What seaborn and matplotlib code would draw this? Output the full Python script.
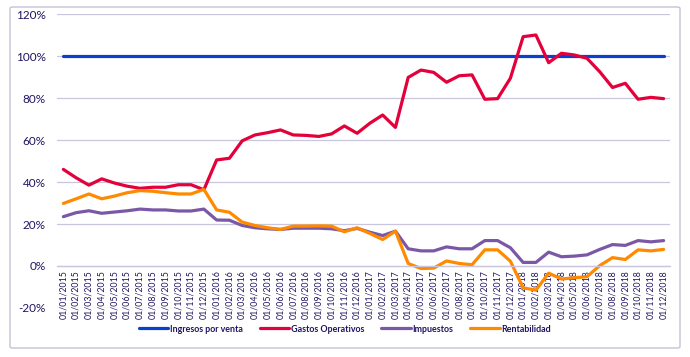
import pandas as pd
import seaborn as sns
import matplotlib.pyplot as plt
import numpy as np
from matplotlib.patches import FancyBboxPatch
from matplotlib.ticker import FuncFormatter

fechas = pd.date_range('2015-01-01', '2018-12-01', freq='MS').strftime('%d/%m/%Y').tolist()

ingresos = [100, 100, 100, 100, 100, 100, 100, 100, 100, 100, 100, 100,
            100, 100, 100, 100, 100, 100, 100, 100, 100, 100, 100, 100,
            100, 100, 100, 100, 100, 100, 100, 100, 100, 100, 100, 100,
            100, 100, 100, 100, 100, 100, 100, 100, 100, 100, 100, 100]
gastos = [46, 42, 38.5, 41.5, 39.5, 38, 37, 37.5, 37.5, 38.7, 38.7, 36.3,
          50.5, 51.3, 59.6, 62.4, 63.5, 64.8, 62.4, 62.2, 61.7, 62.9, 66.7, 63.2,
          68, 71.9, 66, 89.8, 93.3, 92.2, 87.5, 90.6, 91, 79.4, 79.7, 89.4,
          109.2, 110, 96.8, 101.3, 100.5, 98.9, 92.5, 85, 87, 79.4, 80.3, 79.7]
impuestos = [23.5, 25.4, 26.3, 25.1, 25.7, 26.3, 27.1, 26.7, 26.7, 26.2, 26.2, 27.1,
             21.9, 21.8, 19.3, 18.2, 17.7, 17.4, 18, 18, 18, 17.7, 16.8, 17.9,
             16.1, 14.5, 16.6, 8.2, 7.2, 7.2, 9.1, 8.2, 8.2, 12.1, 12.1, 8.7,
             1.7, 1.7, 6.6, 4.4, 4.7, 5.3, 7.9, 10.2, 9.8, 12.1, 11.5, 12.1]
rentabilidad = [29.8, 32, 34.3, 32, 33.3, 34.9, 35.9, 35.6, 34.9, 34.3, 34.3, 36.5,
                26.7, 25.6, 20.9, 19.3, 18.2, 17.4, 19, 19, 19.1, 19, 16.3, 18.2,
                15.5, 12.6, 16.6, 1.2, -1.2, -1, 2.4, 1.2, 0.6, 7.7, 7.7, 2.3,
                -10.4, -11.5, -3.4, -6.2, -5.6, -5.1, 0.2, 4, 3.1, 7.7, 7.2, 7.9]

series = ['Ingresos por venta', 'Gastos Operativos', 'Impuestos', 'Rentabilidad']
colors = ['#0a3fd0', '#e4003b', '#7b58a6', '#ff8a00']

#####################################################################
frames = []
for name, vals in zip(series, [ingresos, gastos, impuestos, rentabilidad]):
    frames.append(pd.DataFrame({'idx': range(len(fechas)), 'valor': vals, 'serie': name}))
df = pd.concat(frames)

sns.set_theme(style="white")
plt.rcParams['font.family'] = ['Lato', 'DejaVu Sans']
txt_color = '#1e1560'
grid_color = '#c8c5dc'

fig = plt.figure(figsize=(6.9, 3.57), dpi=100)
ax = fig.add_axes([57/690, 1-308/357, (670-57)/690, (308-14)/357])
sns.lineplot(data=df, x='idx', y='valor', hue='serie', palette=colors,
             linewidth=2.3, ax=ax, legend=True)

handles, labels = ax.get_legend_handles_labels()
ax.legend_.remove()

ax.set_xlim(-0.5, len(fechas) - 0.5)
ax.set_ylim(-20, 120)
ax.set_yticks(range(-20, 121, 20))
ax.yaxis.set_major_formatter(FuncFormatter(lambda v, p: f'{v:.0f}%'))
ax.yaxis.grid(True, color=grid_color, linewidth=0.9)
ax.xaxis.grid(False)
ax.set_axisbelow(True)
ax.set_xlabel('')
ax.set_ylabel('')

for s in ['top', 'right', 'left']:
    ax.spines[s].set_visible(False)
ax.spines['bottom'].set_position(('data', 0))
ax.spines['bottom'].set_color(grid_color)
ax.spines['bottom'].set_linewidth(0.9)

ax.set_xticks(range(len(fechas)))
ax.set_xticklabels(fechas, rotation=90, fontsize=6.3, color=txt_color)
ax.set_xticks(np.arange(-0.5, len(fechas), 1), minor=True)
ax.tick_params(axis='x', which='major', length=0, pad=3)
ax.tick_params(axis='x', which='minor', length=3, color=grid_color, width=0.8, direction='out')
ax.tick_params(axis='y', length=0, pad=8, labelsize=8.5, labelcolor=txt_color)

fig.legend(handles, labels, loc='center', bbox_to_anchor=(0.5, 1-329/357), ncol=4,
           frameon=False, prop={'size': 6.4, 'weight': 'bold'}, handlelength=3.3,
           handletextpad=0.2, columnspacing=1.9, labelcolor=txt_color)

fig.patches.append(FancyBboxPatch((10/690, 1-348/357), 670/690, 341/357,
                                  boxstyle='round,pad=0,rounding_size=0.004',
                                  transform=fig.transFigure, fill=False,
                                  ec='#c4c2d6', lw=1))

fig.savefig('out.png', dpi=100)
